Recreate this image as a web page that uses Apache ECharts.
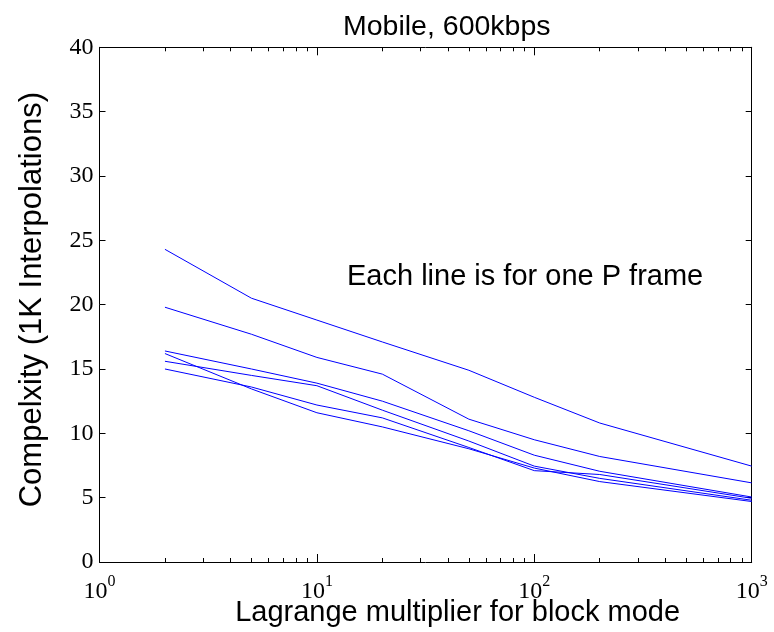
<!DOCTYPE html>
<html>
<head>
<meta charset="utf-8">
<script src="https://cdn.jsdelivr.net/npm/echarts@6/dist/echarts.min.js"></script>
<style>
  html, body { margin: 0; padding: 0; background: #fff; }
  #chart { width: 774px; height: 632px; }
</style>
</head>
<body>
<div id="chart"></div>
<script>
// Lagrange multiplier values (x, log scale)
const lambdas = [2, 5, 10, 20, 50, 100, 200, 1000];

// Complexity (1K interpolations) per P frame
const frame1 = [24.3, 20.5, 18.8, 17.1, 14.9, 12.8, 10.8, 7.45];
const frame2 = [19.8, 17.7, 15.9, 14.6, 11.1, 9.5, 8.2, 6.15];
const frame3 = [16.4, 15.0, 13.9, 12.5, 10.2, 8.3, 7.05, 5.05];
const frame4 = [15.6, 14.5, 13.7, 11.8, 9.4, 7.45, 6.5, 4.8];
const frame5 = [15.0, 13.6, 12.2, 11.2, 8.9, 7.1, 6.8, 4.95];
const frame6 = [16.2, 13.45, 11.6, 10.5, 8.8, 7.3, 6.25, 4.7];
const frames = [frame1, frame2, frame3, frame4, frame5, frame6];

// Minor tick positions inside each decade (multipliers 2..9)
const minorMultipliers = [2, 3, 4, 5, 6, 7, 8, 9];
const decades = [1, 10, 100];

const exponentMinor = [];
decades.forEach(d => minorMultipliers.forEach(m => exponentMinor.push(Math.log10(d * m))));

const chart = echarts.init(document.getElementById('chart'), null, { renderer: 'canvas' });

const serif = '"Liberation Serif", "DejaVu Serif", serif';
const sans = '"Liberation Sans", Arial, Helvetica, sans-serif';
const black = '#000';

function majorLogAxis(position, withLabels) {
  const ax = {
    type: 'log',
    logBase: 10,
    min: 1,
    max: 1000,
    position: position,
    gridIndex: 0,
    axisLine: { show: true, onZero: false, lineStyle: { color: black, width: 1 } },
    axisTick: { show: true, inside: true, length: 8, lineStyle: { color: black, width: 1 } },
    splitLine: { show: false },
    minorTick: { show: false },
    axisLabel: { show: false }
  };
  if (withLabels) {
    ax.axisLabel = {
      show: true,
      margin: 12,
      formatter: v => '{b|10}{s|' + Math.round(Math.log10(v)) + '}',
      rich: {
        b: { fontFamily: serif, fontSize: 24, color: black, lineHeight: 30, verticalAlign: 'bottom' },
        s: { fontFamily: serif, fontSize: 16, color: black, lineHeight: 30, verticalAlign: 'top' }
      }
    };
    ax.name = 'Lagrange multiplier for block mode';
    ax.nameLocation = 'middle';
    ax.nameGap = 36;
    ax.nameMoveOverlap = false;
    ax.nameTextStyle = { fontFamily: sans, fontSize: 29, color: black, padding: [0, 0, 0, 64] };
  }
  return ax;
}

function minorExponentAxis(position) {
  return {
    type: 'value',
    min: 0,
    max: 3,
    position: position,
    gridIndex: 0,
    axisLine: { show: false, onZero: false },
    axisTick: { show: true, inside: true, length: 4, customValues: exponentMinor, lineStyle: { color: black, width: 1 } },
    axisLabel: { show: false },
    splitLine: { show: false }
  };
}

function valueAxis(position, withLabels) {
  const ax = {
    type: 'value',
    min: 0,
    max: 40,
    interval: 5,
    position: position,
    gridIndex: 0,
    axisLine: { show: true, onZero: false, lineStyle: { color: black, width: 1 } },
    axisTick: { show: true, inside: true, length: 6, lineStyle: { color: black, width: 1 } },
    splitLine: { show: false },
    axisLabel: { show: false }
  };
  if (withLabels) {
    ax.axisLabel = { show: true, margin: 6, fontFamily: serif, fontSize: 24, color: black };
    ax.name = 'Compelxity (1K Interpolations)';
    ax.nameLocation = 'middle';
    ax.nameGap = 52;
    ax.nameMoveOverlap = false;
    ax.nameTextStyle = { fontFamily: sans, fontSize: 31, color: black, padding: [0, 0, 0, 10] };
  }
  return ax;
}

const option = {
  backgroundColor: '#fff',
  animation: false,
  title: {
    text: 'Mobile, 600kbps',
    left: 338,
    top: 8,
    textStyle: { fontFamily: sans, fontSize: 28.5, fontWeight: 'normal', color: black }
  },
  grid: {
    left: 99.5, right: 22.3, top: 47.3, bottom: 70,
    containLabel: false,
    outerBoundsMode: 'none'
  },
  xAxis: [
    majorLogAxis('bottom', true),
    minorExponentAxis('bottom'),
    majorLogAxis('top', false),
    minorExponentAxis('top')
  ],
  yAxis: [
    valueAxis('left', true),
    valueAxis('right', false)
  ],
  graphic: [{
    type: 'text',
    left: 347,
    top: 262,
    style: { text: 'Each line is for one P frame', fontFamily: sans, fontSize: 29, fill: black }
  }],
  series: frames.map((vals, i) => ({
    name: 'P frame ' + (i + 1),
    type: 'line',
    xAxisIndex: 0,
    yAxisIndex: 0,
    data: lambdas.map((x, k) => [x, vals[k]]),
    showSymbol: false,
    symbol: 'none',
    smooth: false,
    lineStyle: { color: '#0000ff', width: 1 },
    silent: true
  }))
};

chart.setOption(option);
</script>
</body>
</html>
